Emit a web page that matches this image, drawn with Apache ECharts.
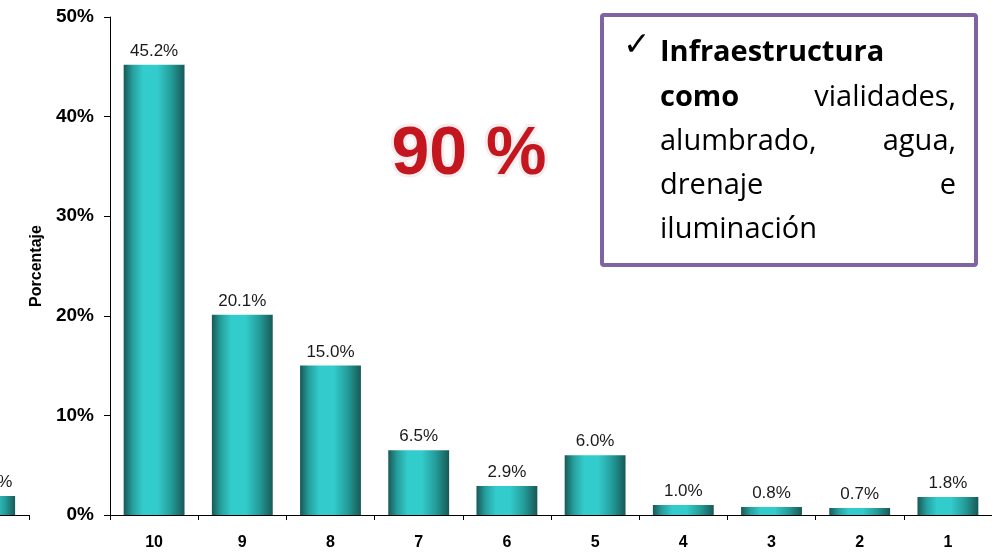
<!DOCTYPE html>
<html>
<head>
<meta charset="utf-8">
<script src="https://cdn.jsdelivr.net/npm/echarts@6/dist/echarts.min.js"></script>
<style>html,body{margin:0;padding:0;background:#fff;}#c{width:992px;height:553px;}</style>
</head>
<body>
<div id="c"></div>
<script>
const categories = ['10','9','8','7','6','5','4','3','2','1'];
const values = [45.2, 20.1, 15.0, 6.5, 2.9, 6.0, 1.0, 0.8, 0.7, 1.8];
// fragment of a neighbouring chart cut off at the left edge: [slot position, value]
const leftValues = [[0.5, 1.9]];
const yTicks = { min: 0, max: 50, interval: 10 };
const boxLines = ['Infraestructura', 'como', 'vialidades,', 'alumbrado,', 'agua,', 'drenaje', 'e', 'iluminación'];
const bigText = '90 %';

const grad = new echarts.graphic.LinearGradient(0, 0, 1, 0, [
  {offset: 0, color: '#185956'},
  {offset: 0.15, color: '#25a09e'},
  {offset: 0.32, color: '#33cccc'},
  {offset: 0.55, color: '#33cccc'},
  {offset: 0.78, color: '#249c9a'},
  {offset: 1, color: '#185956'}
]);
const labelStyle = {show: true, position: 'top', distance: 5, color: '#1a1a1a', fontSize: 17, fontFamily: 'Liberation Sans', formatter: p => {const v = Array.isArray(p.value) ? p.value[1] : p.value; return v.toFixed(1) + '%';}};
const chart = echarts.init(document.getElementById('c'));
const boxFont = 'Open Sans';
const fs = 29;
chart.setOption({
  animation: false,
  grid: [
    {left: 110, top: 17, width: 888, height: 498},
    {left: 0, top: 17, width: 29, height: 498}
  ],
  xAxis: [
    {type: 'category', gridIndex: 0, data: categories,
     axisLine: {lineStyle: {color: '#000', width: 1}},
     axisTick: {show: true, length: 5, inside: false, lineStyle: {color: '#000'}},
     axisLabel: {color: '#000', fontWeight: 'bold', fontSize: 16, fontFamily: 'Liberation Sans', margin: 20}},
    {type: 'value', gridIndex: 1, min: 0.6734, max: 1,
     axisLine: {show: true, onZero: false, lineStyle: {color: '#000', width: 1}},
     axisTick: {show: true, length: 5, customValues: [1], lineStyle: {color: '#000'}},
     splitLine: {show: false},
     axisLabel: {show: false}}
  ],
  yAxis: [
    {type: 'value', gridIndex: 0, min: yTicks.min, max: yTicks.max, interval: yTicks.interval,
     name: 'Porcentaje', nameLocation: 'middle', nameGap: 42, nameRotate: 90,
     nameTextStyle: {color: '#000', fontWeight: 'bold', fontSize: 16, fontFamily: 'Liberation Sans'},
     axisLine: {show: true, lineStyle: {color: '#000', width: 1}},
     axisTick: {show: true, length: 6, lineStyle: {color: '#000'}},
     splitLine: {show: false},
     axisLabel: {color: '#000', fontWeight: 'bold', fontSize: 19, fontFamily: 'Liberation Sans', margin: 16, formatter: '{value}%'}},
    {type: 'value', gridIndex: 1, min: yTicks.min, max: yTicks.max, interval: yTicks.interval, show: false, splitLine: {show: false}}
  ],
  series: [
    {type: 'bar', xAxisIndex: 0, yAxisIndex: 0, data: values, barCategoryGap: '31%', itemStyle: {color: grad}, label: labelStyle},
    {type: 'bar', xAxisIndex: 1, yAxisIndex: 1, data: leftValues, barWidth: 61, clip: true, itemStyle: {color: grad}, label: labelStyle}
  ],
  graphic: [
    {type: 'rect', shape: {x: 602, y: 15, width: 374, height: 250, r: 2}, style: {fill: '#fff', stroke: '#8064a2', lineWidth: 4}, z: 10},
    {type: 'text', x: 623, y: 46, style: {text: '✓', fontSize: 33, fontFamily: 'DejaVu Sans', fill: '#000', textVerticalAlign: 'middle'}, z: 11},
    {type: 'text', x: 660, y: 53, style: {text: boxLines[0], fontSize: fs, fontWeight: 'bold', fontFamily: boxFont, fill: '#000', textVerticalAlign: 'middle'}, z: 11},
    {type: 'text', x: 660, y: 98, style: {text: boxLines[1], fontSize: fs, fontWeight: 'bold', fontFamily: boxFont, fill: '#000', textVerticalAlign: 'middle'}, z: 11},
    {type: 'text', x: 956, y: 98, style: {text: boxLines[2], fontSize: fs, fontFamily: boxFont, fill: '#000', textAlign: 'right', textVerticalAlign: 'middle'}, z: 11},
    {type: 'text', x: 660, y: 142, style: {text: boxLines[3], fontSize: fs, fontFamily: boxFont, fill: '#000', textVerticalAlign: 'middle'}, z: 11},
    {type: 'text', x: 956, y: 142, style: {text: boxLines[4], fontSize: fs, fontFamily: boxFont, fill: '#000', textAlign: 'right', textVerticalAlign: 'middle'}, z: 11},
    {type: 'text', x: 660, y: 186, style: {text: boxLines[5], fontSize: fs, fontFamily: boxFont, fill: '#000', textVerticalAlign: 'middle'}, z: 11},
    {type: 'text', x: 956, y: 186, style: {text: boxLines[6], fontSize: fs, fontFamily: boxFont, fill: '#000', textAlign: 'right', textVerticalAlign: 'middle'}, z: 11},
    {type: 'text', x: 660, y: 230, style: {text: boxLines[7], fontSize: fs, fontFamily: boxFont, fill: '#000', textVerticalAlign: 'middle'}, z: 11},
    {type: 'text', x: 469, y: 155, style: {text: bigText, fontSize: 68, fontWeight: 'bold', fontFamily: 'Liberation Sans',
      fill: '#c4161e',
      stroke: '#f6eeee', lineWidth: 6, textAlign: 'center', textVerticalAlign: 'middle',
      shadowBlur: 6, shadowColor: 'rgba(0,0,0,0.35)', shadowOffsetX: 2, shadowOffsetY: 4}, z: 11}
  ]
});
</script>
</body>
</html>
